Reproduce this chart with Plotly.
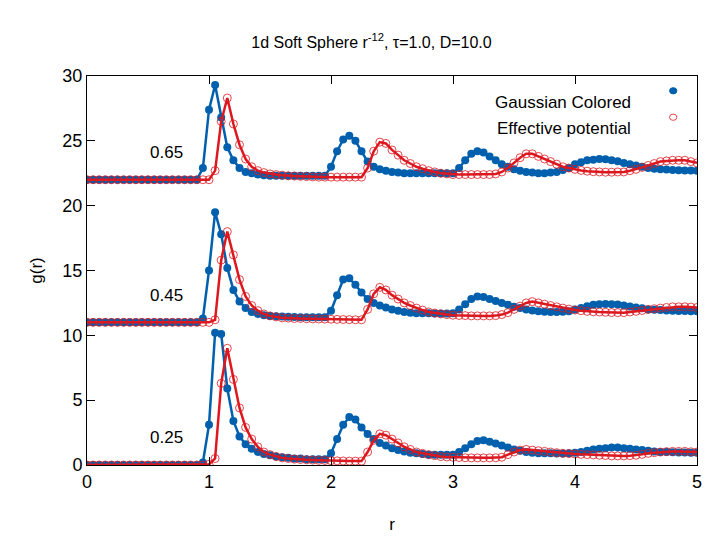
import plotly.graph_objects as go

r = [round(i * 0.05, 2) for i in range(101)]

blue_025 = [0]*10 + [0,0,0,0,0,0,0,0,0,0.2] + \
 [3.1,10.2,10.1,5.9,3.4,2.2,1.6,1.25,1.0,0.85] + \
 [0.75,0.65,0.6,0.55,0.5,0.5,0.45,0.45,0.45,0.45] + \
 [0.9,2.0,3.1,3.7,3.5,2.9,2.4,2.0,1.7,1.5] + \
 [1.3,1.15,1.05,0.95,0.9,0.85,0.8,0.8,0.8,0.8] + \
 [0.8,1.0,1.3,1.6,1.85,1.9,1.8,1.65,1.5,1.35] + \
 [1.2,1.1,1.0,0.95,0.9,0.9,0.9,0.88,0.88,0.9] + \
 [0.95,1.0,1.1,1.2,1.25,1.3,1.35,1.35,1.3,1.25] + \
 [1.2,1.15,1.1,1.05,1.0,1.0,0.98,0.97,0.96,0.95] + [0.95]
red_025 = [0]*20 + \
 [0.05,0.5,6.3,9.0,6.6,4.4,2.9,2.0,1.4,1.0] + \
 [0.8,0.65,0.55,0.5,0.45,0.42,0.4,0.38,0.36,0.35] + \
 [0.33,0.32,0.31,0.3,0.3,0.3,1.0,1.9,2.4,2.3] + \
 [2.0,1.7,1.4,1.2,1.0,0.9,0.8,0.72,0.65,0.62] + \
 [0.6,0.58,0.56,0.55,0.55,0.55,0.55,0.56,0.6,0.8] + \
 [1.0,1.15,1.2,1.15,1.1,1.05,1.0,0.95,0.9,0.88] + \
 [0.85,0.82,0.8,0.78,0.75,0.73,0.7,0.7,0.7,0.72] + \
 [0.75,0.82,0.9,0.95,1.0,1.03,1.05,1.05,1.05,1.02] + [1.0]
blue_045 = [11]*19 + [11.3] + \
 [15.0,19.5,17.8,15.2,13.5,12.6,12.1,11.8,11.65,11.55] + \
 [11.5,11.48,11.45,11.43,11.42,11.4,11.4,11.4,11.4,11.4] + \
 [11.9,13.1,14.3,14.4,13.9,13.3,12.8,12.5,12.3,12.15] + \
 [12.0,11.9,11.8,11.75,11.7,11.7,11.7,11.68,11.68,11.68] + \
 [11.7,12.0,12.4,12.8,13.0,12.95,12.8,12.65,12.5,12.35] + \
 [12.2,12.1,12.0,11.92,11.85,11.82,11.8,11.8,11.82,11.85] + \
 [12.0,12.1,12.25,12.35,12.4,12.42,12.4,12.38,12.3,12.22] + \
 [12.15,12.08,12.0,11.97,11.95,11.92,11.9,11.88,11.87,11.86] + [11.85]
red_045 = [11]*21 + [11.2] + \
 [15.8,18.0,16.2,14.3,13.0,12.3,11.9,11.65] + \
 [11.5,11.42,11.35,11.33,11.3,11.3,11.28,11.27,11.26,11.25] + \
 [11.24,11.23,11.22,11.21,11.2,11.2,12.0,13.2,13.7,13.5] + \
 [13.1,12.8,12.5,12.3,12.1,11.95,11.8,11.72,11.65,11.6] + \
 [11.55,11.53,11.52,11.5,11.5,11.5,11.5,11.52,11.6,11.75] + \
 [12.0,12.25,12.5,12.6,12.5,12.4,12.3,12.2,12.1,12.02] + \
 [11.95,11.9,11.85,11.82,11.8,11.78,11.76,11.75,11.75,11.8] + \
 [11.85,11.92,12.0,12.05,12.1,12.15,12.2,12.2,12.2,12.18] + [12.15]
blue_065 = [22]*19 + [22.9] + \
 [27.4,29.3,26.8,24.5,23.5,22.9,22.6,22.5,22.4,22.35] + \
 [22.3]*10 + \
 [23.0,24.2,25.1,25.4,25.0,24.2,23.4,23.0,22.8,22.7] + \
 [22.6,22.55,22.5,22.5,22.5,22.5,22.5,22.5,22.5,22.5] + \
 [22.5,22.9,23.5,24.0,24.2,24.1,23.8,23.5,23.2,23.0] + \
 [22.8,22.7,22.6,22.55,22.5,22.5,22.55,22.6,22.75,22.9] + \
 [23.2,23.35,23.5,23.55,23.6,23.58,23.5,23.42,23.3,23.2] + \
 [23.1,23.0,22.9,22.85,22.8,22.78,22.75,22.73,22.72,22.71] + [22.7]
red_065 = [22]*21 + [22.7] + \
 [26.5,28.3,26.3,24.7,23.6,23.0,22.7,22.55] + \
 [22.45,22.4,22.35,22.3,22.28,22.26,22.24,22.22,22.2,22.2] + \
 [22.2,22.2,22.2,22.2,22.2,22.2,22.9,24.2,24.9,24.8] + \
 [24.3,23.9,23.5,23.25,23.0,22.85,22.7,22.6,22.5,22.45] + \
 [22.4,22.4,22.4,22.4,22.4,22.4,22.4,22.45,22.6,22.9] + \
 [23.3,23.7,24.0,24.0,23.8,23.6,23.4,23.2,23.0,22.9] + \
 [22.8,22.72,22.66,22.62,22.6,22.58,22.58,22.6,22.6,22.7] + \
 [22.8,22.95,23.1,23.25,23.4,23.45,23.5,23.5,23.5,23.4] + [23.3]

densities = ["0.65", "0.45", "0.25"]
label_pos = [(0.65, 24.1), (0.65, 13.1), (0.65, 2.1)]
xticks = [0, 1, 2, 3, 4, 5]
yticks = [0, 5, 10, 15, 20, 25, 30]

BLUE = "#0060ad"
RED = "#dd181f"
FONT = "Liberation Sans"

fig = go.Figure()
for y in [blue_025, blue_045, blue_065]:
    fig.add_trace(go.Scatter(x=r, y=y, mode="lines+markers",
        line=dict(color=BLUE, width=2.5),
        marker=dict(color=BLUE, size=8, symbol="circle"), showlegend=False))
for y in [red_025, red_045, red_065]:
    fig.add_trace(go.Scatter(x=r, y=y, mode="lines+markers",
        line=dict(color=RED, width=2.5),
        marker=dict(color=RED, size=8, symbol="circle-open", line=dict(width=0.8)),
        showlegend=False))

ann = []
for lab, (xx, yy) in zip(densities, label_pos):
    ann.append(dict(x=xx, y=yy, xref="x", yref="y", text=lab, showarrow=False,
                    font=dict(size=17, color="black", family=FONT)))
ann.append(dict(x=0.895, y=0.962, xref="paper", yref="paper", xanchor="right",
                text="Gaussian Colored", showarrow=False, font=dict(size=17, color="black", family=FONT)))
ann.append(dict(x=0.895, y=0.894, xref="paper", yref="paper", xanchor="right",
                text="Effective potential", showarrow=False, font=dict(size=17, color="black", family=FONT)))

shapes = [
    dict(type="circle", xref="paper", yref="paper", x0=0.955, x1=0.967, y0=0.954, y1=0.970,
         fillcolor=BLUE, line=dict(color=BLUE, width=1)),
    dict(type="circle", xref="paper", yref="paper", x0=0.955, x1=0.967, y0=0.886, y1=0.902,
         line=dict(color=RED, width=0.8)),
]

fig.update_layout(
    width=727, height=545,
    margin=dict(l=79, r=38, t=68, b=88),
    plot_bgcolor="white", paper_bgcolor="white",
    font=dict(family=FONT, size=18, color="black"),
    title=dict(text="1d Soft Sphere r<sup>-12</sup>, τ=1.0, D=10.0", x=0.5, xanchor="center",
               y=0.948, font=dict(size=16)),
    annotations=ann, shapes=shapes,
)
fig.update_xaxes(range=[0, 5], tickvals=xticks, showgrid=False, zeroline=False,
                 showline=True, linecolor="black", linewidth=1, mirror="ticks",
                 ticks="inside", ticklen=8, tickcolor="black",
                 title=dict(text="r", font=dict(size=17), standoff=27))
fig.update_yaxes(range=[0, 30], tickvals=yticks, showgrid=False, zeroline=False,
                 showline=True, linecolor="black", linewidth=1, mirror="ticks",
                 ticks="inside", ticklen=8, tickcolor="black",
                 title=dict(text="g(r)", font=dict(size=17), standoff=15))
fig.write_html("out.html")
